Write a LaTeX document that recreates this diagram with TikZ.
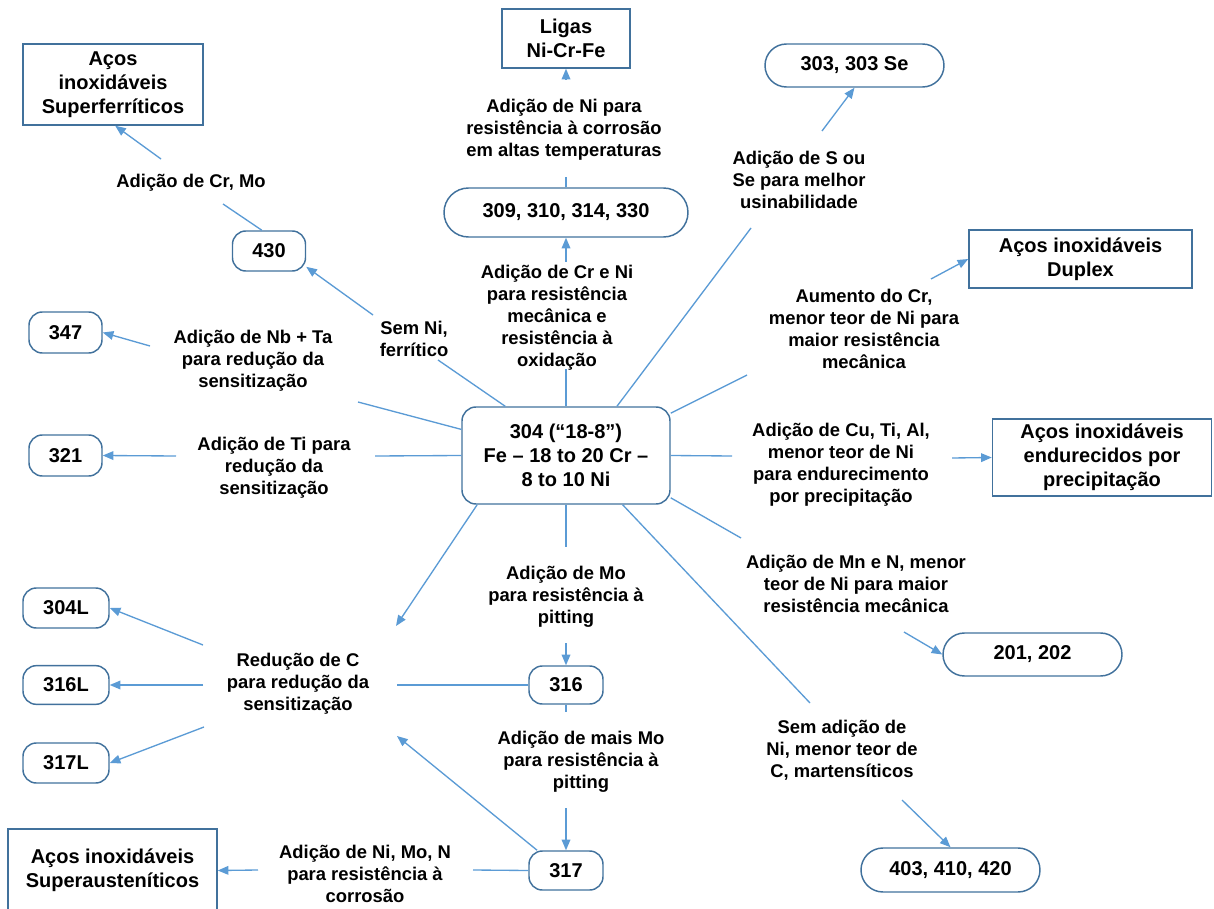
\documentclass[tikz,border=0pt]{standalone}
\usepackage{fontspec}
\setmainfont{Liberation Sans}
\usetikzlibrary{arrows.meta,shapes.misc}
\definecolor{edgeblue}{RGB}{91,155,213}
\definecolor{boxblue}{RGB}{65,113,156}
\begin{document}
\begin{tikzpicture}[x=0.75pt,y=-0.75pt,
  lbl/.style={align=center, font=\fontsize{13.8}{16.5}\selectfont\bfseries, inner sep=0pt},
  bigbox/.style={draw=boxblue, line width=1.1pt, align=center, font=\fontsize{15}{18}\selectfont\bfseries, inner sep=0pt},
  pill/.style={rounded rectangle, draw=boxblue, line width=1.1pt, font=\fontsize{15}{18}\selectfont\bfseries, inner sep=0pt},
  tag/.style={rectangle, rounded corners=10pt, draw=boxblue, line width=1.1pt, font=\fontsize{15}{18}\selectfont\bfseries, inner sep=0pt},
  conn/.style={draw=edgeblue, line width=1pt},
  arr/.style={conn, -{Triangle[length=8pt,width=6.5pt]}}]
\useasboundingbox (0,0) rectangle (1214,909);

% boxes
\node[bigbox, minimum width=135pt, minimum height=60.75pt] (sfer) at (113,84.5) {Aços\\inoxidáveis\\Superferríticos};
\node[bigbox, minimum width=96pt, minimum height=44.25pt] (ligas) at (566,38.5) {Ligas\\Ni-Cr-Fe};
\node[bigbox, minimum width=167.25pt, minimum height=43.5pt] (duplex) at (1080.5,259) {Aços inoxidáveis\\Duplex};
\node[bigbox, minimum width=164.25pt, minimum height=57.75pt] (pptc) at (1102,457.5) {Aços inoxidáveis\\endurecidos por\\precipitação};
\node[bigbox, minimum width=156.75pt, minimum height=62.25pt] (saust) at (112.5,870.5) {Aços inoxidáveis\\Superausteníticos};

% central
\node[tag, rounded corners=10.5pt, align=center, minimum width=156pt, minimum height=72.75pt] (n304) at (566,455.5) {304 (“18-8”)\\Fe – 18 to 20 Cr –\\8 to 10 Ni};

% pills
\node[pill, minimum width=183pt, minimum height=36.75pt] (n309) at (566,212.5) {309, 310, 314, 330};
\node[pill, minimum width=134.25pt, minimum height=32.25pt] (n303) at (854.5,65.5) {303, 303 Se};
\node[pill, minimum width=134.25pt, minimum height=32.25pt] (n201) at (1032.5,654.5) {201, 202};
\node[pill, minimum width=134.25pt, minimum height=33pt] (n403) at (950.5,870) {403, 410, 420};

% tags
\node[tag, minimum width=54.75pt, minimum height=30pt] (n430) at (269,251) {430};
\node[tag, minimum width=54.75pt, minimum height=30.75pt] (n347) at (65.5,332.5) {347};
\node[tag, minimum width=54.75pt, minimum height=30.75pt] (n321) at (65.5,455.5) {321};
\node[tag, minimum width=64.5pt, minimum height=30pt] (n304L) at (66,608) {304L};
\node[tag, minimum width=64.5pt, minimum height=29pt] (n316L) at (66,685) {316L};
\node[tag, minimum width=64.5pt, minimum height=30pt] (n317L) at (66,763) {317L};
\node[tag, minimum width=55.5pt, minimum height=28.5pt] (n316) at (566,685) {316};
\node[tag, minimum width=55.5pt, minimum height=29.25pt] (n317) at (566,870.5) {317};

% labels
\node[lbl] (lCrMo) at (191,183) {Adição de Cr, Mo};
\node[lbl] (lNiHT) at (564,130) {Adição de Ni para\\resistência à corrosão\\em altas temperaturas};
\node[lbl] (lCrNi) at (557,318) {Adição de Cr e Ni\\para resistência\\mecânica e\\resistência à\\oxidação};
\node[lbl] (lS) at (799,180) {Adição de S ou\\Se para melhor\\usinabilidade};
\node[lbl] (lDup) at (864,329) {Aumento do Cr,\\menor teor de Ni para\\maior resistência\\mecânica};
\node[lbl] (lCu) at (841,465) {Adição de Cu, Ti, Al,\\menor teor de Ni\\para endurecimento\\por precipitação};
\node[lbl] (lMn) at (856,584) {Adição de Mn e N, menor\\teor de Ni para maior\\resistência mecânica};
\node[lbl] (lMart) at (842,750) {Sem adição de\\Ni, menor teor de\\C, martensíticos};
\node[lbl] (lMo) at (566,597) {Adição de Mo\\para resistência à\\pitting};
\node[lbl] (lMaisMo) at (581,762) {Adição de mais Mo\\para resistência à\\pitting};
\node[lbl] (lRedC) at (298,684) {Redução de C\\para redução da\\sensitização};
\node[lbl] (lNiMoN) at (365,874) {Adição de Ni, Mo, N\\para resistência à\\corrosão};
\node[lbl] (lNb) at (253,361) {Adição de Nb + Ta\\para redução da\\sensitização};
\node[lbl] (lSemNi) at (414,339) {Sem Ni,\\ferrítico};
\node[lbl] (lTi) at (274,468) {Adição de Ti para\\redução da\\sensitização};

% free ends
\coordinate (e1) at (438,360);
\coordinate (a1) at (373,315);
\coordinate (e2) at (223,204);
\coordinate (a3) at (161,159);
\coordinate (e4) at (566,369);
\coordinate (a4) at (566,262);
\coordinate (e5) at (566,177);
\coordinate (a5) at (566,80);
\coordinate (e6) at (751,228);
\coordinate (a6) at (822,131);
\coordinate (e7) at (747,375);
\coordinate (a7) at (931,279);
\coordinate (e8) at (732,456);
\coordinate (a8) at (952,458);
\coordinate (e9) at (741,538);
\coordinate (a9) at (904,632);
\coordinate (e10) at (810,703);
\coordinate (a10) at (902,800);
\coordinate (e11) at (566,547);
\coordinate (a11) at (566,643);
\coordinate (e12) at (566,712);
\coordinate (a12) at (566,808);
\coordinate (t13) at (396,626);
\coordinate (e14) at (397,685);
\coordinate (t15) at (397,736);
\coordinate (a16) at (203,645);
\coordinate (a17) at (203,685);
\coordinate (a18) at (204,727);
\coordinate (e19) at (473,870);
\coordinate (a19) at (258,870);
\coordinate (e20) at (358,402);
\coordinate (a20) at (150,346);
\coordinate (e21) at (375,456);
\coordinate (a21) at (176,456);

% connectors
\draw[conn] (n304.141.5) -- (e1);
\draw[arr] (a1) -- (n430.-23);
\draw[conn] (n430.109) -- (e2);
\draw[arr] (a3) -- (sfer.-87);
\draw[conn] (n304.90) -- (e4);
\draw[arr] (a4) -- (n309.south);
\draw[conn] (n309.north) -- (e5);
\draw[arr] (a5) -- (ligas.south);
\draw[conn] (n304.44) -- (e6);
\draw[arr] (a6) -- (n303.south);
\draw[conn] (n304.22) -- (e7);
\draw[arr] (a7) -- (duplex.west);
\draw[conn] (n304.0) -- (e8);
\draw[arr] (a8) -- (pptc.west);
\draw[conn] (n304.-22) -- (e9);
\draw[arr] (a9) -- (n201.west);
\draw[conn] (n304.-41.5) -- (e10);
\draw[arr] (a10) -- (n403.north);
\draw[conn] (n304.-90) -- (e11);
\draw[arr] (a11) -- (n316.north);
\draw[conn] (n316.south) -- (e12);
\draw[arr] (a12) -- (n317.north);
\draw[arr] (n304.-151) -- (t13);
\draw[conn] (n316.west) -- (e14);
\draw[arr] (n317.145) -- (t15);
\draw[arr] (a16) -- (n304L.east);
\draw[arr] (a17) -- (n316L.east);
\draw[arr] (a18) -- (n317L.east);
\draw[conn] (n317.west) -- (e19);
\draw[arr] (a19) -- (saust.east);
\draw[conn] (n304.166) -- (e20);
\draw[arr] (a20) -- (n347.east);
\draw[conn] (n304.180) -- (e21);
\draw[arr] (a21) -- (n321.east);
\end{tikzpicture}
\end{document}
